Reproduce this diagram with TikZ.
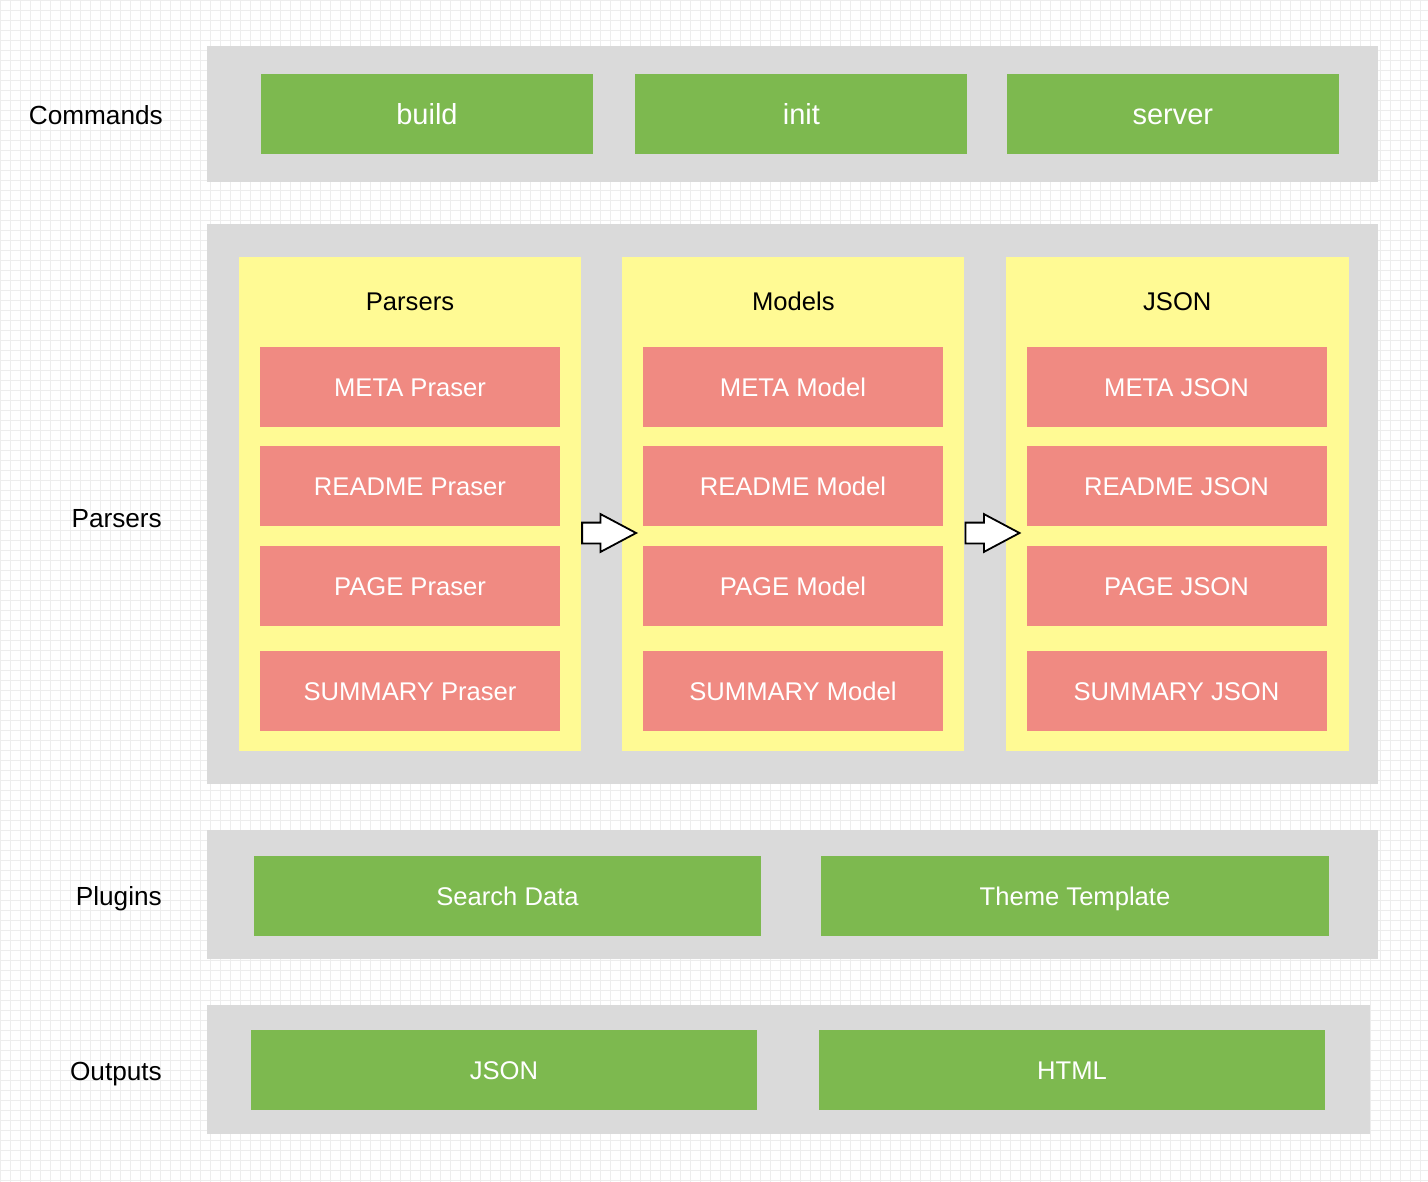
\documentclass[tikz,border=0pt]{standalone}
\usepackage{fontspec}
\setmainfont{Liberation Sans}
\usepackage{xcolor}
\usepackage{tikz}
\usetikzlibrary{positioning, shapes.arrows}

\definecolor{cmdgreen}{HTML}{7DB94F}
\definecolor{itemred}{HTML}{F08A82}
\definecolor{colyellow}{HTML}{FFFA94}
\definecolor{bandgray}{HTML}{DADADA}

\begin{document}
\begin{tikzpicture}[
  x=1pt, y=-1pt,
  node distance=40pt,
  band/.style={fill=bandgray, anchor=north west, inner sep=0pt},
  greenbox/.style={fill=cmdgreen, minimum width=332pt, minimum height=80pt, inner sep=0pt, text=white,
    font=\fontsize{29}{34}\selectfont, text height=20.8pt, text depth=0pt},
  widebox/.style={greenbox, minimum width=507pt, font=\fontsize{25.6}{30}\selectfont, text height=18.3pt},
  column/.style={fill=colyellow, minimum width=342pt, minimum height=494pt, inner sep=0pt},
  coltitle/.style={font=\fontsize{25.6}{30}\selectfont, text height=18.3pt, text depth=0pt},
  itembox/.style={fill=itemred, minimum width=300pt, minimum height=80pt, inner sep=0pt, text=white,
    font=\fontsize{25.6}{30}\selectfont, text height=18.3pt, text depth=0pt},
  sidelabel/.style={anchor=east, inner sep=0pt, font=\fontsize{26.2}{30}\selectfont, text height=18.8pt, text depth=0pt},
  blockarrow/.style={single arrow, draw=black, fill=white, line width=1.8pt, inner sep=0pt,
    text height=19pt, text depth=0pt, minimum height=54pt, anchor=tail,
    single arrow head extend=8.5pt, single arrow tip angle=56}
]
  % background grid
  \useasboundingbox (0,0) rectangle (1428,1182);
  \fill[white] (0,0) rectangle (1428,1182);
  \draw[step=10pt, gray!14, line width=0.6pt] (0,0) grid (1428,1182);

  % bands
  \node[band, minimum width=1171pt, minimum height=136pt] (cmdband) at (207,46) {};
  \node[band, minimum width=1171pt, minimum height=560pt] (parband) at (207,224) {};
  \node[band, minimum width=1171pt, minimum height=129pt] (plugband) at (207,830) {};
  \node[band, minimum width=1163pt, minimum height=129pt] (outband) at (207,1005) {};

  \node[sidelabel] (cmdlabel) at (163,115) {Commands};
  \node[sidelabel] (parlabel) at (162,518) {Parsers};
  \node[sidelabel] (pluglabel) at (162,896) {Plugins};
  \node[sidelabel] (outlabel) at (162,1071) {Outputs};

  % commands
  \node[greenbox] (build) at (427,114) {build};
  \node[greenbox, right=42pt of build] (init) {init};
  \node[greenbox, right=39pt of init] (server) {server};

  % parser columns
  \node[column] (parcol) at (410,504) {};
  \node[column, right=41pt of parcol] (modcol) {};
  \node[column, minimum width=343pt, right=41pt of modcol] (jsoncol) {};

  \node[coltitle] (partitle) at ([yshift=-45pt]parcol.north) {Parsers};
  \node[coltitle] (modtitle) at ([yshift=-45pt]modcol.north) {Models};
  \node[coltitle] (jsontitle) at ([yshift=-45pt]jsoncol.north) {JSON};

  \node[itembox] (parmeta) at (410,387) {META Praser};
  \node[itembox] (parreadme) at (410,486) {README Praser};
  \node[itembox] (parpage) at (410,586) {PAGE Praser};
  \node[itembox] (parsummary) at (410,691) {SUMMARY Praser};

  \node[itembox] (modmeta) at (793,387) {META Model};
  \node[itembox] (modreadme) at (793,486) {README Model};
  \node[itembox] (modpage) at (793,586) {PAGE Model};
  \node[itembox] (modsummary) at (793,691) {SUMMARY Model};

  \node[itembox] (jsonmeta) at (1176.5,387) {META JSON};
  \node[itembox] (jsonreadme) at (1176.5,486) {README JSON};
  \node[itembox] (jsonpage) at (1176.5,586) {PAGE JSON};
  \node[itembox] (jsonsummary) at (1176.5,691) {SUMMARY JSON};

  \node[blockarrow] (partomod) at ([yshift=-29pt]parcol.east) {};
  \node[blockarrow] (modtojson) at ([yshift=-29pt]modcol.east) {};

  % plugins
  \node[widebox] (search) at (507.5,896) {Search Data};
  \node[widebox, minimum width=508pt] (theme) at (1075,896) {Theme Template};

  % outputs
  \node[widebox, minimum width=506pt] (outjson) at (504,1070) {JSON};
  \node[widebox, minimum width=506pt] (outhtml) at (1072,1070) {HTML};
\end{tikzpicture}
\end{document}
